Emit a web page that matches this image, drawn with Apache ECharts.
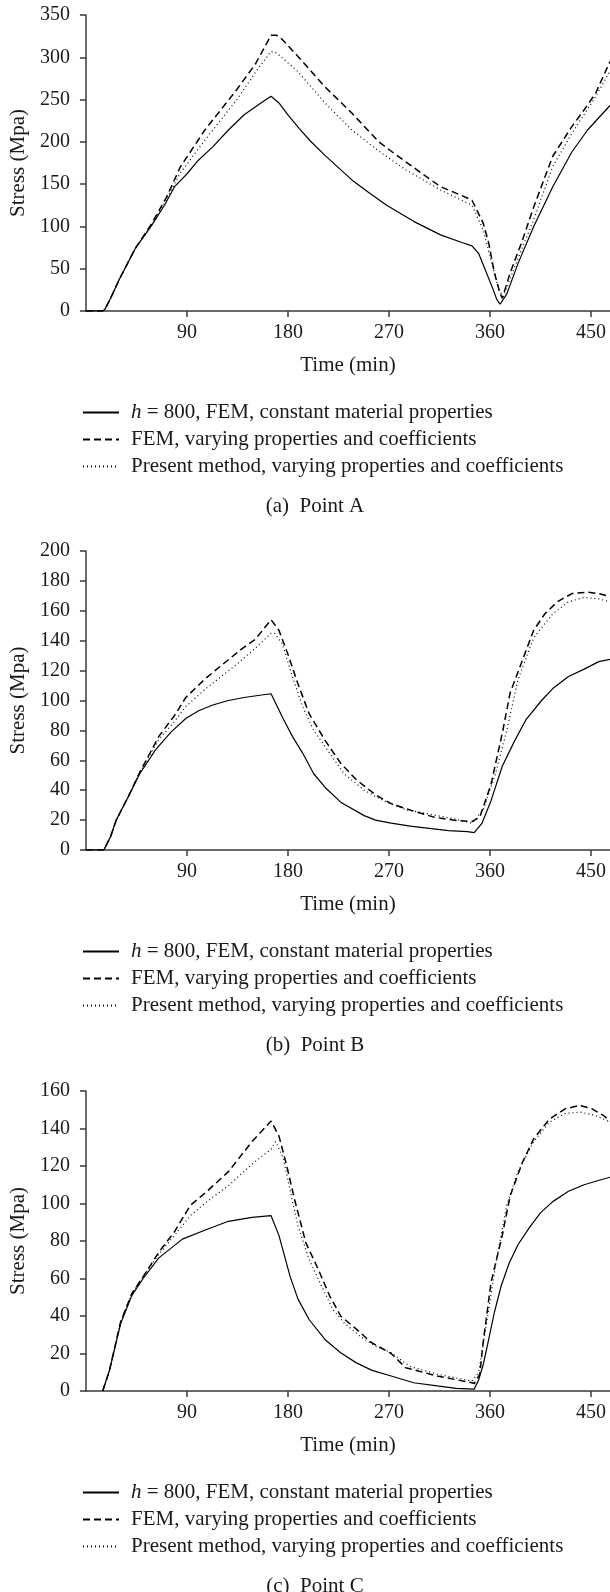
<!DOCTYPE html>
<html>
<head>
<meta charset="utf-8">
<script src="https://cdn.jsdelivr.net/npm/echarts@6/dist/echarts.min.js"></script>
<style>
  html, body { margin: 0; padding: 0; background: #fff; }
  #chart { width: 610px; height: 1592px; }
</style>
</head>
<body>
<div id="chart"></div>
<script>
// Series names shared by the three panels
const seriesNames = [
  'h = 800, FEM, constant material properties',
  'FEM, varying properties and coefficients',
  'Present method, varying properties and coefficients'
];
const panelCaptions = ['(a)\u2002Point A', '(b)\u2002Point B', '(c)\u2002Point C'];
const timeTicks = [90, 180, 270, 360, 450];
const timeMax = 467;
const stressMax = [350, 200, 160];
const stressStep = [50, 20, 20];

// Point A: [time (min), stress (MPa)]
const pointA_const = [[0,0],[15,0],[17,2],[22,15],[30,38],[44,74],[58,100],[70,125],[79,147],[90,162],[100,178],[113,194],[127,214],[141,232],[155,245],[165,254],[172,246],[180,232],[190,216],[200,201],[213,184],[237,155],[252,140],[268,125],[292,106],[316,90],[335,81],[344,77],[350,68],[357,45],[363,25],[366,14],[369,8],[375,20],[385,56],[399,100],[416,147],[433,188],[447,214],[467,243]];
const pointA_fem = [[0,0],[15,0],[17,2],[22,15],[30,38],[44,74],[58,102],[72,135],[84,170],[106,214],[134,261],[151,292],[165,326],[170,326],[175,321],[189,301],[213,265],[237,234],[261,200],[275,186],[299,163],[316,147],[334,137],[344,131],[354,104],[359,80],[364,45],[369,21],[371,15],[378,45],[388,80],[399,123],[416,183],[433,218],[444,238],[454,257],[467,295]];
const pointA_present = [[0,0],[15,0],[17,2],[22,15],[30,38],[44,74],[58,100],[72,132],[84,163],[106,202],[134,249],[151,282],[165,307],[170,305],[189,283],[213,246],[237,214],[261,189],[285,167],[316,143],[344,125],[354,96],[361,60],[368,25],[372,17],[382,52],[399,108],[416,171],[433,210],[454,253],[467,284]];

// Point B
const pointB_const = [[0,0],[16,0],[22,9],[27,20],[38,36],[48,51],[62,67],[76,79],[89,88],[100,93],[113,97],[127,100],[141,102],[155,103.5],[165,104.5],[175,89],[184,76],[193,65],[203,51],[213,42],[227,32],[248,23],[258,20],[272,18],[289,16],[306,14.5],[323,13],[340,12.3],[346,11.6],[353,18],[361,33],[371,56],[382,73],[392,87],[406,100],[416,108],[430,116],[444,121],[457,126],[467,127.5]];
const pointB_fem = [[0,0],[16,0],[22,9],[27,20],[38,36],[48,52],[65,76],[79,90],[89,102],[107,115],[120,123],[138,134],[151,141],[165,154],[172,147],[180,131],[189,111],[199,91],[213,73.5],[227,58],[241,47],[258,37],[272,31],[292,26],[310,22],[327,20],[344,19],[351,22],[361,44],[371,78],[378,105],[389,127],[399,147],[409,158],[420,166],[433,171.5],[447,172.5],[457,171.5],[467,169.5]];
const pointB_present = [[0,0],[16,0],[22,9],[27,20],[38,36],[48,52],[65,74],[79,86],[89,96],[107,108],[134,124],[151,135],[165,145],[168,145],[175,138],[184,116],[193,96],[203,80],[217,65],[230,51],[248,40],[265,33],[285,27],[310,23.4],[327,21],[344,18],[354,27],[365,51],[375,80],[385,114],[399,142],[416,158],[430,166],[444,169],[457,168],[467,166]];

// Point C
const pointC_const = [[15,0],[21,11],[31,36],[41,51],[51,60],[65,71],[86,81],[107,86],[127,90.5],[148,92.6],[165,93.5],[172,83],[182,61],[189,49],[199,38],[213,27.5],[227,20.4],[241,15],[255,11],[272,8],[292,4.4],[313,2.7],[330,1.4],[346,1],[350,6],[354,14],[358,25],[364,42],[370,56],[377,68],[385,78],[395,87],[405,95],[416,101],[430,106.5],[444,110],[455,112],[467,114]];
const pointC_fem = [[15,0],[21,11],[31,37],[41,52],[51,61],[65,74],[79,85],[93,99],[107,106],[127,117],[148,133],[165,144],[172,136],[179,120],[186,102],[196,79],[207,65],[217,51],[227,40],[241,33],[254,26],[272,20],[285,12.4],[313,8],[344,4.4],[346,4],[351,9],[354,26],[361,58],[371,83],[378,104],[389,122],[399,134.5],[413,145],[427,150.5],[440,152.3],[451,150.5],[461,147],[467,144]];
const pointC_present = [[15,0],[21,11],[31,37],[41,52],[51,61],[65,73],[79,83],[93,93.5],[107,100.6],[127,109.5],[148,121],[165,129],[169,133],[176,124],[183,104],[189,88],[199,70],[210,56],[220,43.5],[230,36.4],[244,29.3],[258,24],[272,20.4],[289,13],[313,9],[344,5.3],[350,10],[358,40],[365,67],[375,99],[385,117],[399,133],[413,143.4],[427,148],[440,148.8],[454,147],[467,143.4]];

const panelData = [
  [pointA_const, pointA_fem, pointA_present],
  [pointB_const, pointB_fem, pointB_present],
  [pointC_const, pointC_fem, pointC_present]
];

const FONT = '"Liberation Serif", "DejaVu Serif", serif';
const TEXT = '#1a1a1a';
const AXIS = '#3a3a3a';

// Panel layout (pixels): plot top, plot height
const panels = [
  { top: 15, height: 296 },
  { top: 551, height: 299 },
  { top: 1091, height: 300 }
];

const lineStyles = [
  { type: 'solid', width: 1.2 },
  { type: [7, 4], width: 1.5 },
  { type: [1, 3], width: 1.2 }
];

const grids = [], xAxes = [], yAxes = [], series = [], legends = [], titles = [];

panels.forEach((p, i) => {
  const axisBottom = p.top + p.height;
  grids.push({ left: 82, right: 0, top: p.top, height: p.height, containLabel: false });
  xAxes.push({
    type: 'value', gridIndex: i, min: 0, max: timeMax, interval: 90,
    name: 'Time (min)', nameLocation: 'middle', nameGap: 44,
    nameTextStyle: { fontFamily: FONT, fontSize: 21, color: TEXT },
    axisLine: { show: true, onZero: false, lineStyle: { color: AXIS, width: 1.5 } },
    axisTick: { show: true, length: 6, inside: false, customValues: timeTicks, lineStyle: { color: AXIS, width: 1.5 } },
    axisLabel: { customValues: timeTicks, margin: 12, fontFamily: FONT, fontSize: 20, color: TEXT },
    splitLine: { show: false }
  });
  yAxes.push({
    type: 'value', gridIndex: i, min: 0, max: stressMax[i], interval: stressStep[i],
    name: 'Stress (Mpa)', nameLocation: 'middle', nameGap: 56, nameRotate: 90,
    nameTextStyle: { fontFamily: FONT, fontSize: 21, color: TEXT },
    axisLine: { show: true, lineStyle: { color: AXIS, width: 1.5 } },
    axisTick: { show: true, length: 6, lineStyle: { color: AXIS, width: 1.5 } },
    axisLabel: { margin: 16, fontFamily: FONT, fontSize: 20, color: TEXT },
    splitLine: { show: false }
  });
  panelData[i].forEach((d, k) => {
    series.push({
      name: seriesNames[k], type: 'line', xAxisIndex: i, yAxisIndex: i,
      data: d, symbol: 'none', smooth: false, animation: false,
      lineStyle: Object.assign({ color: '#000' }, lineStyles[k]),
      itemStyle: { color: '#000' },
      z: 3 - k
    });
  });
  legends.push({
    data: seriesNames, orient: 'vertical', left: 77, top: axisBottom + 86,
    itemWidth: 36, itemHeight: 14, itemGap: 6, selectedMode: false,
    itemStyle: { opacity: 0 },
    textStyle: {
      fontFamily: FONT, fontSize: 21, color: TEXT, lineHeight: 21, padding: [0, 0, 0, 7],
      rich: { i: { fontFamily: FONT, fontSize: 21, fontStyle: 'italic', color: TEXT, lineHeight: 21 } }
    },
    formatter: name => name.startsWith('h =') ? '{i|h}' + name.slice(1) : name
  });
  titles.push({
    text: panelCaptions[i], left: 310, textAlign: 'center', top: axisBottom + 180,
    textStyle: { fontFamily: FONT, fontSize: 21, fontWeight: 'normal', color: TEXT }
  });
});

const chart = echarts.init(document.getElementById('chart'), null, { renderer: 'canvas' });
chart.setOption({
  animation: false,
  backgroundColor: '#fff',
  title: titles,
  legend: legends,
  grid: grids,
  xAxis: xAxes,
  yAxis: yAxes,
  series: series
});
</script>
</body>
</html>
